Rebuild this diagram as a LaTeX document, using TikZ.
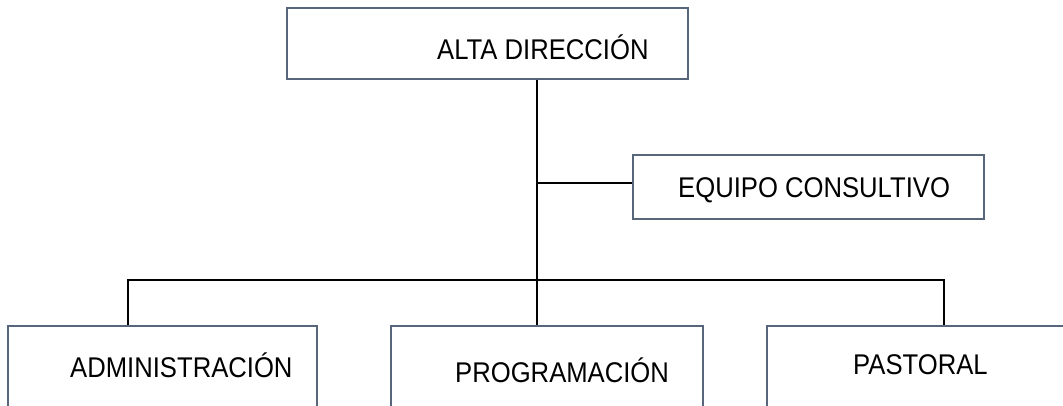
\documentclass[tikz,border=0pt]{standalone}
\usepackage{fontspec}
\newfontfamily\orgfont{Liberation Sans}[FakeStretch=0.9]
\definecolor{boxline}{RGB}{88,102,124}
\begin{document}
\begin{tikzpicture}[x=1pt,y=-1pt,
  orgbox/.style={draw=boxline, line width=1.2pt, fill=white, rectangle, inner sep=0pt},
  lbl/.style={anchor=base west, inner sep=0pt, font=\orgfont\fontsize{28.5}{32}\selectfont, text=black},
  conn/.style={draw=black, line width=1.1pt}]
\useasboundingbox (0,0) rectangle (1063,405);
\fill[white] (0,0) rectangle (1063,405);
\clip (0,0) rectangle (1063,405);
% boxes
\node[orgbox, minimum width=401pt, minimum height=71pt] (alta) at (487.5,43.5) {};
\node[orgbox, minimum width=351pt, minimum height=64pt] (equipo) at (808.5,187) {};
\node[orgbox, minimum width=309pt, minimum height=120pt] (admin) at (162.5,386) {};
\node[orgbox, minimum width=312pt, minimum height=120pt] (prog) at (547,386) {};
\node[orgbox, minimum width=310pt, minimum height=120pt] (past) at (922,386) {};
% labels
\node[lbl] (altat) at (437,59.5) {ALTA DIRECCIÓN};
\node[lbl] (equipot) at (678,197) {EQUIPO CONSULTIVO};
\node[lbl] (admint) at (70,377) {ADMINISTRACIÓN};
\node[lbl] (progt) at (455,382) {PROGRAMACIÓN};
\node[lbl] (pastt) at (853,374.5) {PASTORAL};
% connectors
\coordinate (bus) at (537,280);
\coordinate (br) at (537,183);
\coordinate (la) at (128,280);
\coordinate (ra) at (944,280);
\draw[conn] (alta.south -| bus) -- (bus);
\draw[conn] (br) -- (br -| equipo.west);
\draw[conn] (la |- admin.north) -- (la) -- (ra) -- (ra |- past.north);
\draw[conn] (bus) -- (bus |- prog.north);
\end{tikzpicture}
\end{document}
